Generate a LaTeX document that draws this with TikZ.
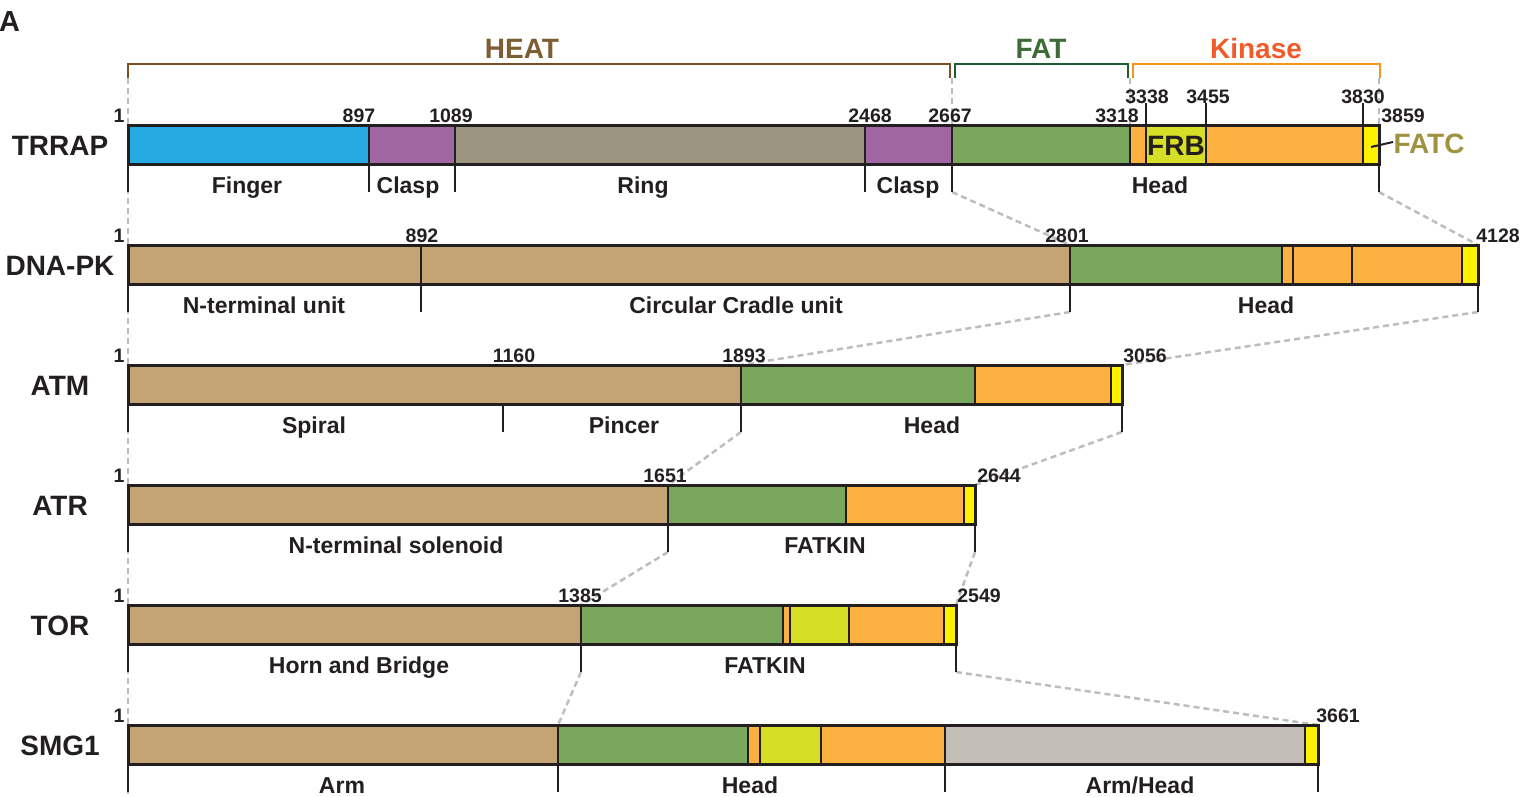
\documentclass[tikz,border=0pt]{standalone}
\usepackage{fontspec}
\setmainfont{Liberation Sans}
\definecolor{ink}{HTML}{231F20}
\definecolor{dgrey}{HTML}{BDBDBD}
\definecolor{cblue}{HTML}{27AAE1}
\definecolor{cpurp}{HTML}{A066A1}
\definecolor{cring}{HTML}{9C9582}
\definecolor{ctan}{HTML}{C4A473}
\definecolor{cgreen}{HTML}{79A75C}
\definecolor{corange}{HTML}{FBB040}
\definecolor{cfrb}{HTML}{D6DE25}
\definecolor{cyel}{HTML}{FFF200}
\definecolor{cgrey}{HTML}{C3BFB7}
\definecolor{heatc}{HTML}{7D5D32}
\definecolor{heatl}{HTML}{7A4F24}
\definecolor{fatc}{HTML}{3D6B35}
\definecolor{fatl}{HTML}{1F5C32}
\definecolor{kinc}{HTML}{F15A29}
\definecolor{kinl}{HTML}{F7941D}
\definecolor{fatcc}{HTML}{A09340}
\begin{document}
\begin{tikzpicture}[x=1pt,y=-1pt,
  segline/.style={draw=ink,line width=2.5pt},
  barbox/.style={draw=ink,line width=3pt},
  tickmark/.style={draw=ink,line width=2.5pt},
  link/.style={draw=dgrey,line width=2.5pt,dash pattern=on 6pt off 4pt},
  num/.style={font=\fontsize{19.5}{20}\selectfont\bfseries,text=ink,anchor=base,inner sep=0pt},
  lab/.style={font=\fontsize{23}{24}\selectfont\bfseries,text=ink,anchor=base,inner sep=0pt},
  big/.style={font=\fontsize{28}{30}\selectfont\bfseries,anchor=base,inner sep=0pt},
  rowname/.style={big,text=ink},
  brk/.style={line width=2.5pt}
 ]
\useasboundingbox (0,0) rectangle (1523,796);

% ---------- dashed guide lines (background) ----------
\coordinate (g0) at (128,78);
\coordinate (g1) at (128,796);
\draw[link] (g0) -- (g1);
\coordinate (hR) at (952,78);  \coordinate (hRb) at (952,125);
\coordinate (fR) at (1130,78); \coordinate (fRb) at (1130,125);
\coordinate (kR) at (1379,78); \coordinate (kRb) at (1379,125);
\draw[link] (hR) -- (hRb);
\draw[link] (fR) -- (fRb);
\draw[link] (kR) -- (kRb);

% connector end points
\coordinate (t1a) at (952,192);  \coordinate (d1a) at (1070,245);
\coordinate (t1b) at (1379,192); \coordinate (d1b) at (1478,245);
\coordinate (d2a) at (1070,312); \coordinate (m1a) at (741,365);
\coordinate (d2b) at (1478,312); \coordinate (m1b) at (1122,365);
\coordinate (m2a) at (741,432);  \coordinate (r1a) at (668,485);
\coordinate (m2b) at (1122,432); \coordinate (r1b) at (975,485);
\coordinate (r2a) at (668,552);  \coordinate (o1a) at (581,605);
\coordinate (r2b) at (975,552);  \coordinate (o1b) at (956,605);
\coordinate (o2a) at (581,672);  \coordinate (s1a) at (558,725);
\coordinate (o2b) at (956,672);  \coordinate (s1b) at (1318,725);
\draw[link] (t1a) -- (d1a);
\draw[link] (t1b) -- (d1b);
\draw[link] (d2a) -- (m1a);
\draw[link] (d2b) -- (m1b);
\draw[link] (m2a) -- (r1a);
\draw[link] (m2b) -- (r1b);
\draw[link] (r2a) -- (o1a);
\draw[link] (r2b) -- (o1b);
\draw[link] (o2a) -- (s1a);
\draw[link] (o2b) -- (s1b);

% ---------- panel letter ----------
\node[big,text=ink,anchor=base west,font=\fontsize{29}{30}\selectfont\bfseries] (panelA) at (-1,31) {A};

% ---------- domain brackets ----------
\draw[brk,heatl] (128,78) -- (128,64) -- (950,64) -- (950,78);
\draw[brk,fatl] (955,78) -- (955,64) -- (1128,64) -- (1128,78);
\draw[brk,kinl] (1133,78) -- (1133,64) -- (1380,64) -- (1380,78);
\node[big,text=heatc] (heat) at (522,58) {HEAT};
\node[big,text=fatc] (fat) at (1041,58) {FAT};
\node[big,text=kinc] (kin) at (1256,58) {Kinase};

% ---------- TRRAP (top 125) ----------
\foreach \a/\b/\c in {128/369/cblue,369/455/cpurp,455/865/cring,865/952/cpurp,952/1130/cgreen,1130/1146/corange,1146/1206/cfrb,1206/1363/corange,1363/1379/cyel}
  \fill[\c] (\a,125) rectangle (\b,164);
\foreach \x in {369,455,865,952,1130,1146,1206,1363} \draw[segline] (\x,125) -- (\x,164);
\draw[barbox] (128,125) rectangle (1379,164);
\foreach \x in {1146,1206,1363} \draw[tickmark] (\x,103) -- (\x,125);
\foreach \x in {128,369,455,865,952,1379} \draw[tickmark] (\x,164) -- (\x,192);
\node[rowname] (trrap) at (60,155) {TRRAP};
\node[num] (tr1) at (119,122) {1};
\node[num] (tr2) at (359,122) {897};
\node[num] (tr3) at (451,122) {1089};
\node[num] (tr4) at (870,122) {2468};
\node[num] (tr5) at (950,122) {2667};
\node[num] (tr6) at (1117,122) {3318};
\node[num] (tr7) at (1147,103) {3338};
\node[num] (tr8) at (1208,103) {3455};
\node[num] (tr9) at (1363,103) {3830};
\node[num] (tr10) at (1403,122) {3859};
\node[big,text=ink] (frb) at (1176,155) {FRB};
\node[big,text=fatcc] (fatcl) at (1429,153) {FATC};
\coordinate (fatcA) at (1371,147);
\coordinate (fatcB) at (1393,142);
\draw[ink,line width=2pt] (fatcA) -- (fatcB);
\node[lab] (trl1) at (247,193) {Finger};
\node[lab] (trl2) at (408,193) {Clasp};
\node[lab] (trl3) at (643,193) {Ring};
\node[lab] (trl4) at (908,193) {Clasp};
\node[lab] (trl5) at (1160,193) {Head};

% ---------- DNA-PK (top 245) ----------
\foreach \a/\b/\c in {128/1070/ctan,1070/1282/cgreen,1282/1462/corange,1462/1478/cyel}
  \fill[\c] (\a,245) rectangle (\b,284);
\foreach \x in {421,1070,1282,1293,1352,1462} \draw[segline] (\x,245) -- (\x,284);
\draw[barbox] (128,245) rectangle (1478,284);
\foreach \x in {128,421,1070,1478} \draw[tickmark] (\x,284) -- (\x,312);
\node[rowname] (dnapk) at (60,275) {DNA-PK};
\node[num] (dp1) at (119,242) {1};
\node[num] (dp2) at (422,242) {892};
\node[num] (dp3) at (1067,242) {2801};
\node[num] (dp4) at (1498,242) {4128};
\node[lab] (dpl1) at (264,313) {N-terminal unit};
\node[lab] (dpl2) at (736,313) {Circular Cradle unit};
\node[lab] (dpl3) at (1266,313) {Head};

% ---------- ATM (top 365) ----------
\foreach \a/\b/\c in {128/741/ctan,741/975/cgreen,975/1111/corange,1111/1122/cyel}
  \fill[\c] (\a,365) rectangle (\b,404);
\foreach \x in {741,975,1111} \draw[segline] (\x,365) -- (\x,404);
\draw[barbox] (128,365) rectangle (1122,404);
\foreach \x in {128,503,741,1122} \draw[tickmark] (\x,404) -- (\x,432);
\node[rowname] (atm) at (60,395) {ATM};
\node[num] (am1) at (119,362) {1};
\node[num] (am2) at (514,362) {1160};
\node[num] (am3) at (744,362) {1893};
\node[num] (am4) at (1145,362) {3056};
\node[lab] (aml1) at (314,433) {Spiral};
\node[lab] (aml2) at (624,433) {Pincer};
\node[lab] (aml3) at (932,433) {Head};

% ---------- ATR (top 485) ----------
\foreach \a/\b/\c in {128/668/ctan,668/846/cgreen,846/964/corange,964/975/cyel}
  \fill[\c] (\a,485) rectangle (\b,524);
\foreach \x in {668,846,964} \draw[segline] (\x,485) -- (\x,524);
\draw[barbox] (128,485) rectangle (975,524);
\foreach \x in {128,668,975} \draw[tickmark] (\x,524) -- (\x,552);
\node[rowname] (atr) at (60,515) {ATR};
\node[num] (ar1) at (119,482) {1};
\node[num] (ar2) at (665,482) {1651};
\node[num] (ar3) at (999,482) {2644};
\node[lab] (arl1) at (396,553) {N-terminal solenoid};
\node[lab] (arl2) at (825,553) {FATKIN};

% ---------- TOR (top 605) ----------
\foreach \a/\b/\c in {128/581/ctan,581/783/cgreen,783/790/corange,790/849/cfrb,849/944/corange,944/956/cyel}
  \fill[\c] (\a,605) rectangle (\b,644);
\foreach \x in {581,783,790,849,944} \draw[segline] (\x,605) -- (\x,644);
\draw[barbox] (128,605) rectangle (956,644);
\foreach \x in {128,581,956} \draw[tickmark] (\x,644) -- (\x,672);
\node[rowname] (tor) at (60,635) {TOR};
\node[num] (to1) at (119,602) {1};
\node[num] (to2) at (580,602) {1385};
\node[num] (to3) at (979,602) {2549};
\node[lab] (tol1) at (359,673) {Horn and Bridge};
\node[lab] (tol2) at (765,673) {FATKIN};

% ---------- SMG1 (top 725) ----------
\foreach \a/\b/\c in {128/558/ctan,558/748/cgreen,748/760/corange,760/821/cfrb,821/945/corange,945/1305/cgrey,1305/1318/cyel}
  \fill[\c] (\a,725) rectangle (\b,764);
\foreach \x in {558,748,760,821,945,1305} \draw[segline] (\x,725) -- (\x,764);
\draw[barbox] (128,725) rectangle (1318,764);
\foreach \x in {128,558,945,1318} \draw[tickmark] (\x,764) -- (\x,792);
\node[rowname] (smg) at (60,755) {SMG1};
\node[num] (sm1) at (119,722) {1};
\node[num] (sm2) at (1338,722) {3661};
\node[lab] (sml1) at (342,793) {Arm};
\node[lab] (sml2) at (750,793) {Head};
\node[lab] (sml3) at (1140,793) {Arm/Head};
\end{tikzpicture}
\end{document}
